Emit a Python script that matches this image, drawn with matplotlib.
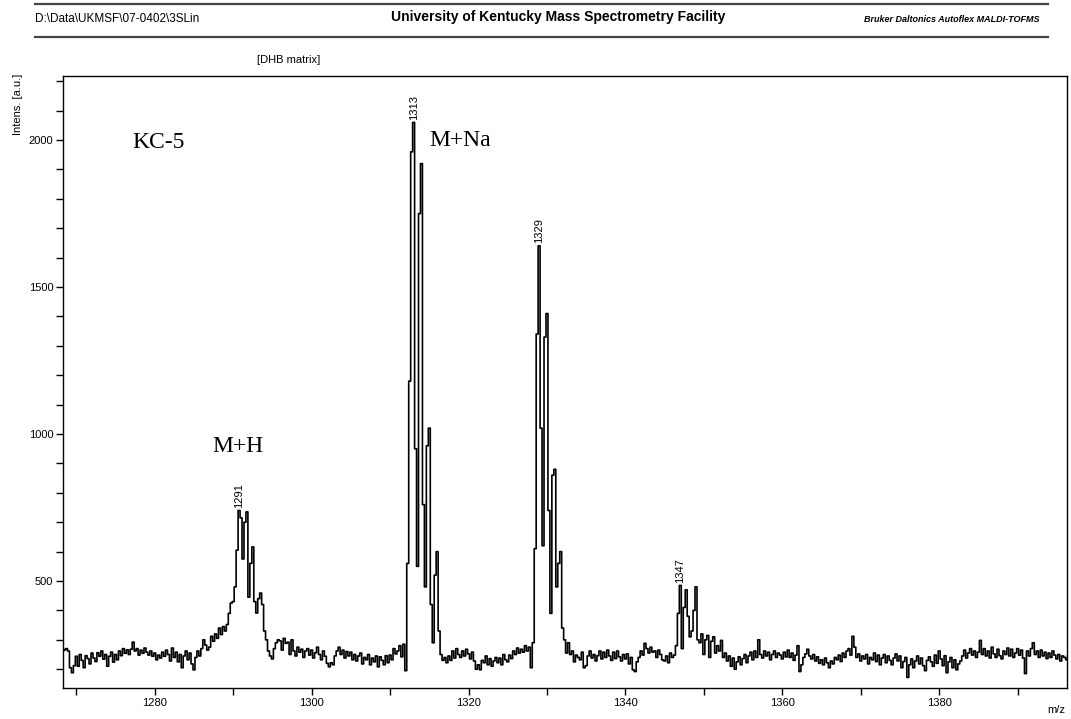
import matplotlib
matplotlib.use("Agg")
import matplotlib.pyplot as plt
from matplotlib.lines import Line2D
from matplotlib.ticker import MultipleLocator

plt.rcParams['font.family'] = ['Liberation Sans', 'DejaVu Sans']

# intensities, 4 samples per m/z unit (n.00, n.25, n.50, n.75), one row per unit
baseline_lo = [  # 1268 - 1288
    [255, 262, 266, 270], [262, 205, 188, 212], [244, 210, 250, 230],
    [205, 246, 236, 218], [255, 238, 226, 256], [244, 262, 234, 250],
    [210, 244, 258, 224], [250, 232, 262, 246], [270, 254, 266, 250],
    [268, 292, 262, 270], [248, 265, 254, 272], [258, 248, 262, 244],
    [255, 232, 248, 238], [258, 244, 265, 250], [228, 272, 240, 258],
    [225, 250, 205, 245], [262, 232, 255, 218], [198, 240, 262, 245],
    [270, 300, 282, 265], [275, 312, 295, 320], [305, 340, 318, 345],
]
peak_mh = [  # 1289 - 1295
    [330, 352, 390, 425], [430, 480, 605, 740], [715, 575, 700, 735],
    [445, 560, 616, 430], [391, 440, 459, 420], [330, 300, 262, 245],
    [235, 270, 290, 300],
]
baseline_mid1 = [  # 1296 - 1311
    [296, 265, 305, 288], [292, 250, 300, 262], [245, 275, 258, 268],
    [240, 262, 270, 248], [265, 238, 256, 275], [250, 232, 262, 244],
    [220, 208, 222, 215], [245, 262, 275, 250], [265, 238, 260, 245],
    [258, 232, 250, 228], [245, 255, 218, 240], [232, 250, 215, 238],
    [225, 245, 208, 242], [230, 215, 246, 222], [248, 232, 270, 252],
    [262, 280, 242, 285],
]
peak_na = [  # 1312 - 1317
    [195, 560, 1180, 1960], [2060, 950, 550, 1750], [1920, 760, 480, 960],
    [1020, 420, 290, 520], [600, 330, 250, 230], [240, 222, 245, 230],
]
baseline_mid2 = [  # 1318 - 1327
    [262, 238, 270, 250], [240, 262, 245, 268], [252, 235, 258, 228],
    [200, 215, 198, 230], [222, 245, 215, 236], [210, 228, 240, 222],
    [238, 215, 250, 232], [225, 248, 236, 262], [250, 272, 255, 268],
    [258, 280, 262, 275],
]
peak_1329 = [  # 1328 - 1333
    [205, 290, 610, 1340], [1640, 1020, 620, 1330], [1410, 740, 390, 860],
    [880, 480, 560, 600], [340, 300, 255, 290], [250, 262, 225, 248],
]
baseline_mid3 = [  # 1334 - 1345
    [240, 232, 258, 205], [212, 245, 262, 238], [250, 228, 246, 262],
    [235, 258, 240, 265], [245, 230, 258, 236], [262, 242, 228, 250],
    [235, 252, 218, 240], [198, 192, 225, 240], [262, 248, 288, 270],
    [255, 275, 258, 262], [240, 265, 250, 232], [228, 245, 222, 255],
]
peak_1347 = [  # 1346 - 1351
    [240, 248, 280, 390], [485, 270, 410, 470], [380, 310, 330, 400],
    [480, 300, 290, 320], [250, 300, 315, 240], [295, 310, 255, 280],
]
baseline_hi = [  # 1352 - 1396
    [262, 298, 240, 255], [228, 245, 210, 238], [200, 225, 242, 215],
    [236, 250, 222, 245], [258, 232, 262, 240], [300, 250, 238, 262],
    [245, 258, 232, 250], [262, 240, 255, 248], [235, 258, 242, 265],
    [240, 255, 230, 248], [280, 192, 215, 240], [252, 268, 245, 235],
    [250, 228, 242, 220], [232, 215, 238, 222], [205, 228, 218, 240],
    [232, 248, 226, 255], [240, 262, 270, 248], [312, 275, 240, 252],
    [228, 245, 235, 250], [218, 240, 232, 255], [226, 248, 215, 238],
    [250, 222, 245, 230], [215, 238, 252, 228], [245, 205, 226, 240],
    [172, 215, 235, 205], [228, 245, 218, 238], [212, 195, 230, 242],
    [225, 210, 248, 220], [262, 235, 212, 246], [188, 225, 240, 205],
    [232, 198, 218, 228], [245, 265, 238, 255], [270, 248, 262, 240],
    [258, 298, 250, 270], [245, 262, 238, 275], [252, 240, 268, 246],
    [235, 262, 250, 272], [245, 268, 240, 255], [270, 248, 265, 238],
    [185, 262, 245, 270], [290, 250, 262, 240], [265, 245, 258, 236],
    [255, 240, 262, 248], [235, 250, 228, 245], [240, 232, 246, 238],
]

segments = [(1268, baseline_lo), (1289, peak_mh), (1296, baseline_mid1),
            (1312, peak_na), (1318, baseline_mid2), (1328, peak_1329),
            (1334, baseline_mid3), (1346, peak_1347), (1352, baseline_hi)]

peak_labels = [1291, 1313, 1329, 1347]
annotations = [("KC-5", 1277.1, 1993), ("M+H", 1287.3, 959), ("M+Na", 1315.0, 2000)]

mz = []
intens = []
for start, rows in segments:
    for i, row in enumerate(rows):
        for j, v in enumerate(row):
            mz.append(start + i + 0.25 * j)
            intens.append(v)

fig = plt.figure(figsize=(10.71, 7.19), dpi=100)
ax = fig.add_axes([0.0588, 0.0431, 0.9375, 0.8512])

ax.plot(mz, intens, color='black', lw=1.2, drawstyle='steps-mid')

ax.set_xlim(1268.3, 1396.3)
ax.set_ylim(136, 2218)
ax.xaxis.set_major_locator(MultipleLocator(20))
ax.xaxis.set_minor_locator(MultipleLocator(10))
ax.yaxis.set_major_locator(MultipleLocator(500))
ax.yaxis.set_minor_locator(MultipleLocator(100))
ax.tick_params(which='both', direction='out', length=5, width=1, labelsize=8, pad=2)
for s in ax.spines.values():
    s.set_linewidth(1.0)

# peak labels, placed on the local maximum near each nominal mass
for p in peak_labels:
    pts = [(v, m) for m, v in zip(mz, intens) if abs(m - p) <= 0.6]
    v, m = max(pts)
    ax.annotate(str(p), (m, v), xytext=(0, 2), textcoords='offset points',
                rotation=90, ha='center', va='bottom', fontsize=8)

for txt, x, y in annotations:
    ax.text(x, y, txt, fontsize=17, family='Liberation Serif', ha='left', va='center')

# header
fig.add_artist(Line2D([35 / 1071, 1048 / 1071], [1 - 4 / 719, 1 - 4 / 719],
                      color='#444444', lw=1.6))
fig.add_artist(Line2D([35 / 1071, 1048 / 1071], [1 - 37 / 719, 1 - 37 / 719],
                      color='#444444', lw=1.6))
fig.text(35 / 1071, 1 - 19 / 719, r"D:\Data\UKMSF\07-0402\3SLin", fontsize=8.5,
         ha='left', va='center')
fig.text(558 / 1071, 1 - 17 / 719, "University of Kentucky Mass Spectrometry Facility",
         fontsize=10, fontweight='bold', ha='center', va='center')
fig.text(1040 / 1071, 1 - 20 / 719, "Bruker Daltonics Autoflex MALDI-TOFMS",
         fontsize=6.5, fontweight='bold', style='italic', ha='right', va='center')
fig.text(289 / 1071, 1 - 60 / 719, "[DHB matrix]", fontsize=8, ha='center', va='center')
fig.text(18 / 1071, 1 - 74 / 719, "Intens. [a.u.]", fontsize=8, rotation=90,
         ha='center', va='top')
fig.text(1065 / 1071, 1 - 710 / 719, "m/z", fontsize=8, ha='right', va='center')

fig.savefig("out.png", dpi=100)
